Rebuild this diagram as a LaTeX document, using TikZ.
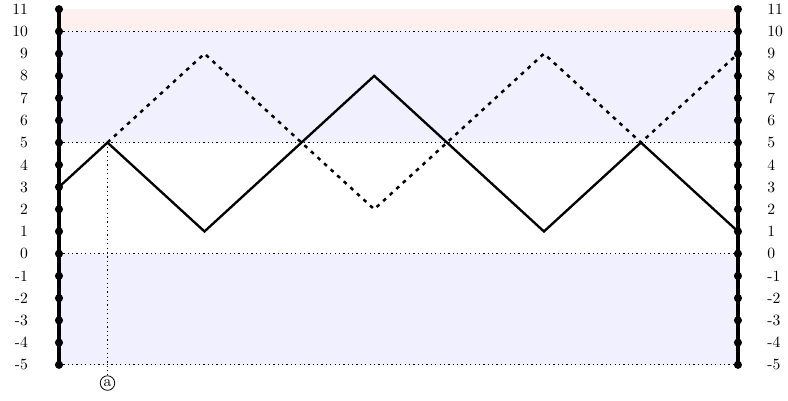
\documentclass[tikz,border=0pt]{standalone}
\begin{document}
\begin{tikzpicture}[x=0.5455cm,y=0.5cm,
  axisline/.style={line width=3pt},
  axisdot/.style={circle,fill=black,inner sep=0pt,minimum size=5.2pt},
  guide/.style={dotted,line width=0.8pt},
  pathline/.style={line width=1.5pt,line join=miter},
  dashline/.style={line width=1.6pt,dash pattern=on 2.4pt off 3.3pt},
  ticklabel/.style={inner sep=0pt,font=\normalsize}]
\useasboundingbox (-1.327cm,-3.312cm) rectangle (16.40cm,5.707cm);
% background bands
\fill[red!6] (0,10) rectangle (28,11);
\fill[blue!6] (0,5) rectangle (28,10);
\fill[blue!6] (0,-5) rectangle (28,0);
% guide lines
\foreach \v in {10,5,0,-5} \draw[guide] (0,\v) -- (28,\v);
% marker a
\node[circle,draw,inner sep=0.9pt,font=\normalsize,line width=0.5pt] (a) at (2,-5.82) {a};
\coordinate (p0) at (0,3);
\coordinate (p1) at (2,5);
\coordinate (p2) at (6,1);
\coordinate (p3) at (10,5);
\coordinate (p4) at (13,8);
\coordinate (p5) at (16,5);
\coordinate (p6) at (20,1);
\coordinate (p7) at (24,5);
\coordinate (p8) at (28,1);
\coordinate (q2) at (6,9);
\coordinate (q4) at (13,2);
\coordinate (q6) at (20,9);
\coordinate (q8) at (28,9);
\draw[guide] (p1) -- (a.north);
% paths
\draw[dashline] (p1) -- (q2) -- (q4) -- (q6) -- (p7) -- (q8);
\draw[pathline] (p0) -- (p1) -- (p2) -- (p3) -- (p4) -- (p5) -- (p6) -- (p7) -- (p8);
% axes
\draw[axisline] (0,-5) -- (0,11);
\draw[axisline] (28,-5) -- (28,11);
\foreach \v in {-5,...,11} {
  \node[axisdot] (l\v) at (0,\v) {};
  \node[axisdot] (r\v) at (28,\v) {};
  \node[ticklabel,anchor=east] (ll\v) at (-1.27,\v) {\v};
  \node[ticklabel,anchor=west] (rl\v) at (29.2,\v) {\v};
}
\end{tikzpicture}
\end{document}
